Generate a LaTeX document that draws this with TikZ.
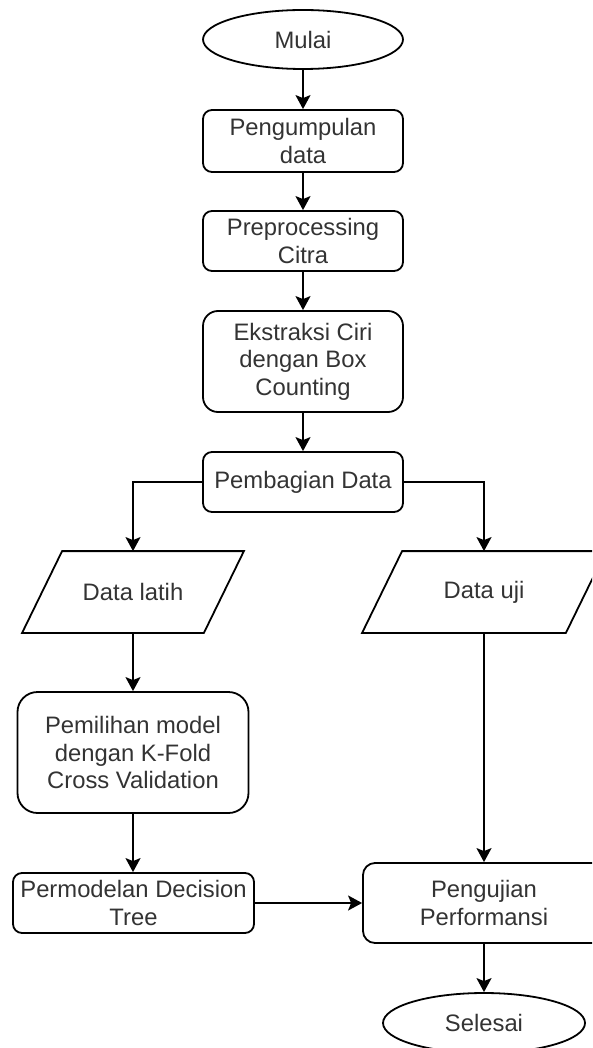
\documentclass[tikz,border=0pt]{standalone}
\usepackage{fontspec}
\setmainfont{Liberation Sans}
\usetikzlibrary{shapes.geometric,arrows.meta}

\tikzset{
  base/.style={draw=black, line width=1.8pt, inner sep=0pt, align=center,
    text=black!80, font=\fontsize{23.8}{27.5}\selectfont},
  terminal/.style={base, ellipse, minimum width=200pt, minimum height=59pt},
  process/.style={base, rectangle, rounded corners=9pt},
  iobox/.style={base, draw=none, rectangle},
  flow/.style={line width=1.8pt, -{Stealth[length=14pt, width=15pt, inset=3pt]}},
}

\begin{document}
\begin{tikzpicture}[x=1pt, y=-1pt]
  \useasboundingbox (0,0) rectangle (592,1048);
  \clip (0,0) rectangle (592,1048);

  % main column
  \node[terminal] (start) at (303,39.5) {Mulai};
  \node[process, minimum width=200pt, minimum height=62pt] (collect) at (303,141) {Pengumpulan\\data};
  \node[process, minimum width=200pt, minimum height=60pt] (prep) at (303,241) {Preprocessing\\Citra};
  \node[process, minimum width=200pt, minimum height=101pt, rounded corners=15pt] (feat) at (303,361.5) {Ekstraksi Ciri\\dengan Box\\Counting};
  \node[process, minimum width=200pt, minimum height=60pt] (split) at (303,482) {Pembagian Data};

  % data sets (parallelograms)
  \node[iobox, minimum width=220pt, minimum height=80pt] (train) at (133,592) {Data latih};
  \node[iobox, minimum width=242pt, minimum height=80pt] (test) at (484,592) {Data uji};
  \foreach \n in {train,test}{
    \draw[line width=1.8pt, line join=miter]
      ([xshift=40pt]\n.north west) -- (\n.north east)
      -- ([xshift=-40pt]\n.south east) -- (\n.south west) -- cycle;
  }

  % training branch
  \node[process, minimum width=231pt, minimum height=121pt, rounded corners=20pt] (select) at (133,752.5) {Pemilihan model\\dengan K-Fold\\Cross Validation};
  \node[process, minimum width=241pt, minimum height=60pt] (model) at (133.5,903) {Permodelan Decision\\Tree};

  % evaluation
  \node[process, minimum width=242pt, minimum height=80pt, rounded corners=12pt] (eval) at (484,903) {Pengujian\\Performansi};
  \node[terminal, minimum width=202pt, minimum height=60pt] (stop) at (484,1023) {Selesai};

  % connectors
  \draw[flow] (start) -- (collect);
  \draw[flow] (collect) -- (prep);
  \draw[flow] (prep) -- (feat);
  \draw[flow] (feat) -- (split);
  \draw[flow] (split.west) -| (train.north);
  \draw[flow] (split.east) -| (test.north);
  \draw[flow] (train.south) -- (select.north);
  \draw[flow] (select.south) -- (select.south |- model.north);
  \draw[flow] (test.south) -- (eval.north);
  \draw[flow] (model.east) -- (eval.west);
  \draw[flow] (eval) -- (stop);
\end{tikzpicture}
\end{document}
